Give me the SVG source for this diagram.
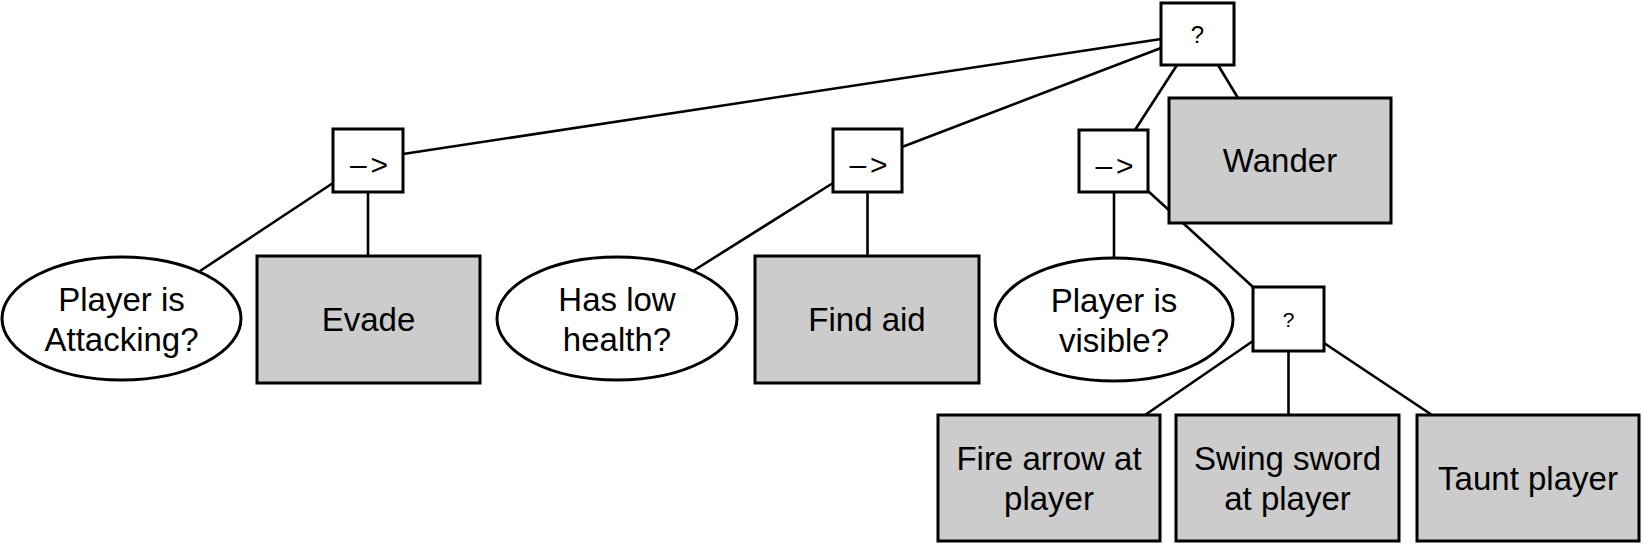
<svg xmlns="http://www.w3.org/2000/svg" width="1642" height="544" viewBox="0 0 1642 544">
<style>
.bg{fill:#ffffff}
.ctl{fill:#ffffff;stroke:#000;stroke-width:3}
.act{fill:#cccccc;stroke:#000;stroke-width:3}
.cond{fill:#ffffff;stroke:#000;stroke-width:3}
.edge{stroke:#000;stroke-width:2.6;fill:none}
.lbl{font-family:"Liberation Sans",Arial,Helvetica,sans-serif;font-size:33px;fill:#000;text-anchor:middle}
.sym{font-family:"Liberation Sans",Arial,Helvetica,sans-serif;font-size:24px;fill:#000;text-anchor:middle}
.seq{font-family:"Liberation Sans",Arial,Helvetica,sans-serif;font-size:30px;fill:#000;text-anchor:middle;letter-spacing:4px}
.sym2{font-family:"Liberation Sans",Arial,Helvetica,sans-serif;font-size:21px;fill:#000;text-anchor:middle}
</style>
<rect class="bg" x="0" y="0" width="1642" height="544"/>
<g id="connectors">
<line class="edge" x1="1161" y1="39" x2="403" y2="154"/>
<line class="edge" x1="1161" y1="48" x2="902" y2="147"/>
<line class="edge" x1="1177" y1="65" x2="1135" y2="130"/>
<line class="edge" x1="1218" y1="65" x2="1238" y2="98"/>
<line class="edge" x1="333" y1="183" x2="200" y2="271"/>
<line class="edge" x1="368" y1="192" x2="368" y2="256"/>
<line class="edge" x1="833" y1="183" x2="693" y2="271"/>
<line class="edge" x1="867.5" y1="192" x2="867.5" y2="256"/>
<line class="edge" x1="1114" y1="192" x2="1114" y2="258"/>
<line class="edge" x1="1148" y1="191" x2="1253" y2="287"/>
<line class="edge" x1="1253" y1="341" x2="1145" y2="415"/>
<line class="edge" x1="1288.5" y1="351" x2="1288.5" y2="415"/>
<line class="edge" x1="1324" y1="343" x2="1432" y2="415"/>
</g>
<g id="root">
<rect class="ctl" x="1161" y="3" width="73" height="62"/>
<text class="sym" x="1197.5" y="43">?</text>
</g>
<g id="seq1">
<rect class="ctl" x="333" y="129" width="70" height="63"/>
<text class="seq" x="371" y="175">–&gt;</text>
</g>
<g id="seq2">
<rect class="ctl" x="833" y="129" width="69" height="63"/>
<text class="seq" x="870.5" y="175">–&gt;</text>
</g>
<g id="seq3">
<rect class="ctl" x="1079" y="130" width="69" height="62"/>
<text class="seq" x="1116.5" y="175.5">–&gt;</text>
</g>
<g id="wander">
<rect class="act" x="1169" y="98" width="222" height="125"/>
<text class="lbl" x="1280" y="172">Wander</text>
</g>
<g id="cond-attacking">
<ellipse class="cond" cx="121.5" cy="318.5" rx="119.5" ry="61.5"/>
<text class="lbl" x="121.5" y="310.5">Player is</text>
<text class="lbl" x="121.5" y="350.5">Attacking?</text>
</g>
<g id="evade">
<rect class="act" x="257" y="256" width="223" height="127"/>
<text class="lbl" x="368.5" y="331">Evade</text>
</g>
<g id="cond-health">
<ellipse class="cond" cx="617" cy="318.5" rx="120" ry="61.5"/>
<text class="lbl" x="617" y="310.5">Has low</text>
<text class="lbl" x="617" y="350.5">health?</text>
</g>
<g id="find-aid">
<rect class="act" x="755" y="256" width="224" height="127"/>
<text class="lbl" x="867" y="331">Find aid</text>
</g>
<g id="cond-visible">
<ellipse class="cond" cx="1114" cy="319.5" rx="119" ry="61.5"/>
<text class="lbl" x="1114" y="311.5">Player is</text>
<text class="lbl" x="1114" y="351.5">visible?</text>
</g>
<g id="sel2">
<rect class="ctl" x="1253" y="287" width="71" height="64"/>
<text class="sym2" x="1288.5" y="326.5">?</text>
</g>
<g id="fire-arrow">
<rect class="act" x="938" y="415" width="222" height="126"/>
<text class="lbl" x="1049" y="469.5">Fire arrow at</text>
<text class="lbl" x="1049" y="509.5">player</text>
</g>
<g id="swing-sword">
<rect class="act" x="1176" y="415" width="223" height="126"/>
<text class="lbl" x="1287.5" y="469.5">Swing sword</text>
<text class="lbl" x="1287.5" y="509.5">at player</text>
</g>
<g id="taunt">
<rect class="act" x="1417" y="415" width="222" height="126"/>
<text class="lbl" x="1528" y="489.5">Taunt player</text>
</g>
</svg>
